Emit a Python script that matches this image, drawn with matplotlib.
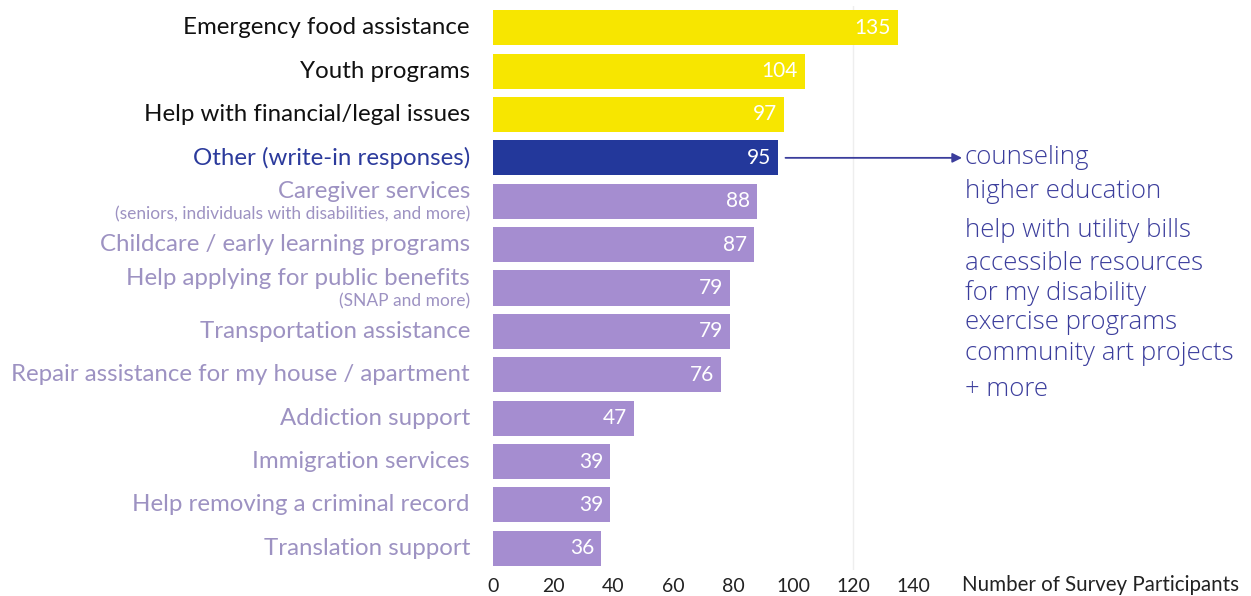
import matplotlib.pyplot as plt
import matplotlib.transforms as mtransforms

categories = [
    "Emergency food assistance",
    "Youth programs",
    "Help with financial/legal issues",
    "Other (write-in responses)",
    "Caregiver services",
    "Childcare / early learning programs",
    "Help applying for public benefits",
    "Transportation assistance",
    "Repair assistance for my house / apartment",
    "Addiction support",
    "Immigration services",
    "Help removing a criminal record",
    "Translation support",
]
subtitles = {
    "Caregiver services": "(seniors, individuals with disabilities, and more)",
    "Help applying for public benefits": "(SNAP and more)",
}
values = [135, 104, 97, 95, 88, 87, 79, 79, 76, 47, 39, 39, 36]
groups = ["top", "top", "top", "other"] + ["rest"] * 9
write_ins = [
    "counseling",
    "higher education",
    "help with utility bills",
    "accessible resources",
    "for my disability",
    "exercise programs",
    "community art projects",
    "+ more",
]

bar_colors = {"top": "#f7e600", "other": "#23389b", "rest": "#a58dd0"}
label_colors = {"top": "#111111", "other": "#2b3a9c", "rest": "#9d92c2"}
hand_color = "#3b3d9c"

plt.rcParams["font.family"] = ["Lato", "DejaVu Sans"]

fig = plt.figure(figsize=(12.51, 5.96), dpi=100)
ax = fig.add_axes([493 / 1251, 26 / 596, 420 / 1251, 564 / 596])

ypos = list(range(len(categories)))
ax.barh(ypos, values, height=0.81, color=[bar_colors[g] for g in groups])
ax.set_ylim(12.5, -0.5)
ax.set_xlim(0, 140)
ax.axvline(120, color="#eeeeee", lw=1, zorder=0)

for s in ax.spines.values():
    s.set_visible(False)
ax.set_yticks([])
ax.set_xticks(range(0, 141, 20))
ax.tick_params(axis="x", length=0, pad=6, labelsize=14, labelcolor="#222222")

# value labels inside bars
for y, v in zip(ypos, values):
    ax.annotate(str(v), xy=(v, y), xytext=(-5, 0), textcoords="offset points",
                ha="right", va="center", color="white", fontsize=15)

# category labels
trans = mtransforms.blended_transform_factory(ax.transAxes, ax.transData)
for y, cat, g in zip(ypos, categories, groups):
    c = label_colors[g]
    if cat in subtitles:
        ax.text(-0.055, y - 0.22, cat, transform=trans, ha="right", va="center",
                fontsize=17.3, color=c)
        ax.text(-0.055, y + 0.3, subtitles[cat], transform=trans, ha="right",
                va="center", fontsize=12.5, color=c)
    else:
        ax.text(-0.055, y, cat, transform=trans, ha="right", va="center",
                fontsize=17.3, color=c)

# axis title
fig.text(962 / 1251, 1 - 585 / 596, "Number of Survey Participants",
         ha="left", va="center", fontsize=14.8, color="#222222")

# write-in responses with arrow
ax.annotate("", xy=(962, 3), xycoords=("figure pixels", "data"),
            xytext=(97.5, 3), textcoords="data",
            arrowprops=dict(arrowstyle="-|>", color=hand_color, lw=1.3,
                            mutation_scale=14, shrinkA=0, shrinkB=0),
            annotation_clip=False)
hand_y = [157, 192, 230, 263, 293, 322, 354, 389]
for t, yy in zip(write_ins, hand_y):
    fig.text(965 / 1251, 1 - yy / 596, t, ha="left", va="center",
             fontsize=18.5, color=hand_color, family=["Open Sans", "DejaVu Sans"],
             fontweight="light")

fig.savefig("out.png", dpi=100, facecolor="white")
